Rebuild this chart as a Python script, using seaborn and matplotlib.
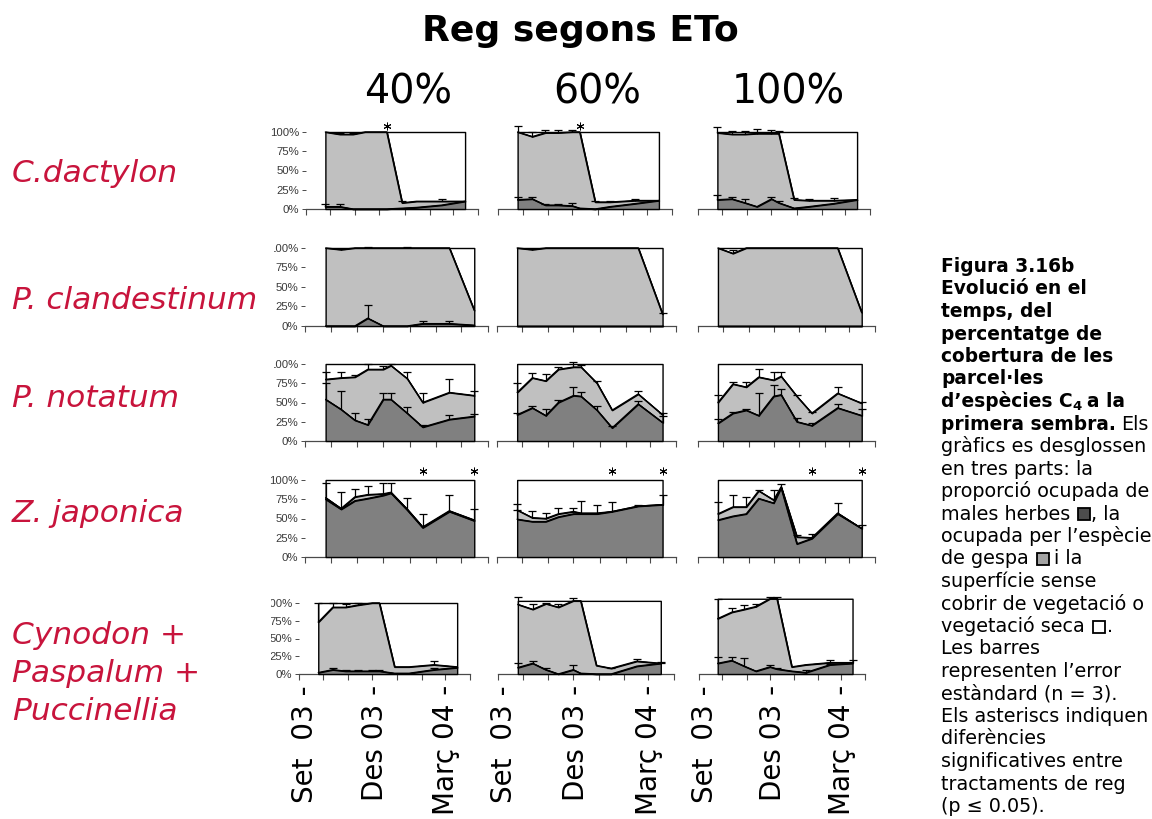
import numpy as np
import pandas as pd
import matplotlib
matplotlib.use("Agg")
import matplotlib.pyplot as plt
import matplotlib.dates as mdates
from matplotlib.patches import Rectangle
from matplotlib.transforms import Bbox
import seaborn as sns

# ---------------------------------------------------------------- data
dates = ["2003-09-25", "2003-10-13", "2003-10-29", "2003-11-13", "2003-12-01",
         "2003-12-10", "2003-12-29", "2004-01-16", "2004-02-16", "2004-03-16"]
treatments = ["40%", "60%", "100%"]
species = ["C.dactylon", "P. clandestinum", "P. notatum", "Z. japonica",
           "Cynodon +\nPaspalum +\nPuccinellia"]
date_ticks = ["2003-09-01", "2003-12-01", "2004-03-01"]
date_labels = ["Set  03 -", "Des 03 -", "Març 04 -"]

# weeds = cover of weeds (%), cover = weeds + turf species (%), *_se = standard error
dactylon_weeds = [[3, 3, 0, 0, 0, 0, 1, 2, 5, 10],
                  [12, 13, 5, 5, 4, 1, 0, 3, 7, 11],
                  [12, 13, 8, 3, 13, 8, 1, 3, 7, 12]]
dactylon_weeds_se = [[4, 4, 0, 0, 0, 0, 0, 0, 0, 0],
                     [3, 2, 2, 2, 4, 0, 0, 0, 0, 0],
                     [6, 3, 5, 0, 3, 3, 0, 0, 0, 0]]
dactylon_cover = [[100, 97, 97, 100, 100, 100, 8, 10, 10, 10],
                  [100, 94, 99, 99, 100, 100, 9, 9, 11, 11],
                  [99, 97, 97, 98, 98, 98, 12, 11, 11, 12]]
dactylon_cover_se = [[0, 2, 2, 0, 0, 0, 2, 0, 3, 0],
                     [8, 6, 3, 3, 2, 0, 2, 2, 2, 0],
                     [7, 4, 4, 6, 4, 3, 2, 2, 3, 0]]

clandestinum_weeds = [[0, 0, 0, 10, 0, 0, 0, 3, 3, 1],
                      [0, 0, 0, 0, 0, 0, 0, 0, 0, 0],
                      [0, 0, 0, 0, 0, 0, 0, 0, 0, 0]]
clandestinum_weeds_se = [[0, 0, 0, 17, 0, 0, 0, 4, 4, 0],
                         [0, 0, 0, 0, 0, 0, 0, 0, 0, 0],
                         [0, 0, 0, 0, 0, 0, 0, 0, 0, 0]]
clandestinum_cover = [[100, 98, 100, 100, 100, 100, 100, 100, 100, 20],
                      [100, 98, 100, 100, 100, 100, 100, 100, 100, 15],
                      [100, 93, 100, 100, 100, 100, 100, 100, 100, 17]]
clandestinum_cover_se = [[0, 1, 0, 1, 0, 0, 1, 0, 0, 0],
                         [0, 1, 0, 0, 0, 0, 0, 0, 0, 2],
                         [0, 4, 0, 0, 0, 0, 0, 0, 0, 0]]

notatum_weeds = [[54, 41, 27, 21, 54, 54, 36, 18, 28, 32],
                 [34, 43, 33, 50, 59, 58, 40, 17, 48, 24],
                 [23, 36, 40, 33, 58, 60, 25, 20, 43, 33]]
notatum_weeds_se = [[21, 24, 10, 7, 8, 8, 8, 3, 6, 3],
                    [3, 3, 8, 3, 11, 6, 6, 3, 4, 8],
                    [5, 2, 2, 29, 15, 7, 5, 3, 5, 8]]
notatum_cover = [[80, 82, 83, 93, 93, 98, 81, 50, 63, 59],
                 [63, 82, 78, 93, 96, 96, 75, 40, 61, 34],
                 [50, 74, 70, 83, 79, 84, 58, 36, 62, 49]]
notatum_cover_se = [[9, 7, 3, 7, 5, 2, 9, 12, 17, 6],
                    [12, 6, 9, 3, 7, 3, 3, 0, 4, 2],
                    [10, 2, 7, 11, 10, 6, 2, 2, 8, 2]]

japonica_weeds = [[75, 62, 73, 76, 80, 83, 61, 38, 59, 47],
                  [49, 46, 46, 52, 56, 56, 56, 59, 66, 68],
                  [48, 53, 56, 76, 70, 90, 17, 24, 56, 37]]
japonica_weeds_se = [[0, 0, 0, 0, 0, 0, 0, 0, 0, 0],
                     [12, 0, 0, 0, 0, 0, 0, 0, 0, 0],
                     [0, 0, 0, 0, 0, 0, 0, 0, 0, 0]]
japonica_cover = [[77, 63, 78, 81, 82, 84, 62, 39, 60, 48],
                  [61, 51, 50, 56, 59, 57, 57, 59, 66, 68],
                  [56, 65, 65, 86, 74, 91, 26, 25, 57, 37]]
japonica_cover_se = [[19, 22, 10, 11, 14, 12, 15, 17, 21, 14],
                     [8, 9, 7, 8, 5, 16, 11, 12, 2, 12],
                     [15, 15, 13, 1, 13, 4, 3, 5, 13, 4]]

mix_weeds = [[2, 6, 4, 4, 4, 4, 1, 1, 6, 9],
             [9, 15, 6, 0, 6, 1, 0, 0, 11, 15],
             [15, 19, 11, 4, 10, 7, 4, 2, 13, 15]]
mix_weeds_se = [[0, 2, 2, 2, 2, 2, 0, 0, 2, 0],
                [6, 4, 2, 0, 6, 0, 0, 0, 0, 2],
                [9, 5, 11, 0, 3, 1, 0, 4, 1, 0]]
mix_cover = [[73, 94, 94, 97, 100, 100, 10, 10, 13, 10],
             [98, 91, 99, 94, 103, 103, 12, 8, 18, 15],
             [78, 87, 91, 95, 106, 106, 10, 13, 16, 16]]
mix_cover_se = [[27, 6, 5, 3, 0, 0, 0, 0, 6, 0],
                [10, 8, 1, 5, 4, 0, 0, 1, 3, 1],
                [28, 6, 6, 3, 2, 2, 0, 0, 4, 4]]

# indices of sampling dates with significant differences between irrigation treatments
dactylon_stars = [[5], [5], []]
clandestinum_stars = [[], [], []]
notatum_stars = [[], [], []]
japonica_stars = [[7, 9], [7, 9], [7, 9]]
mix_stars = [[], [], []]

rows = [
    (dactylon_weeds, dactylon_weeds_se, dactylon_cover, dactylon_cover_se, dactylon_stars),
    (clandestinum_weeds, clandestinum_weeds_se, clandestinum_cover, clandestinum_cover_se, clandestinum_stars),
    (notatum_weeds, notatum_weeds_se, notatum_cover, notatum_cover_se, notatum_stars),
    (japonica_weeds, japonica_weeds_se, japonica_cover, japonica_cover_se, japonica_stars),
    (mix_weeds, mix_weeds_se, mix_cover, mix_cover_se, mix_stars),
]

# ---------------------------------------------------------------- layout (pixels)
W, H = 1152, 819
row_y = [(132, 209), (248, 326), (364, 441), (480, 557), (603, 674)]   # (100 %, 0 %)
col_x = [[(306, 478), (498, 672), (698, 870)],
         [(305, 488), (497, 676), (698, 875)],
         [(305, 488), (497, 676), (698, 875)],
         [(305, 488), (497, 676), (698, 875)],
         [(299, 470), (498, 674), (699, 865)]]
# left edge of each row's pasted chart (percent labels are cut there)
row_clip_left = [0, 274, 274, 0, 271]
date_label_dx = [6, 3, 1]          # horizontal nudges of the date labels, pixels
star_y = [108, 108, 108, 112, 108]
label_baselines = [[182], [309], [407], [522], [644, 682, 720]]

C_WEEDS = "#808080"
C_TURF = "#c0c0c0"
C_BARE = "#ffffff"
C_AXIS = "#4a4a4a"
C_NAME = "#c8143c"

sns.set_theme(style="white")
plt.rcParams["font.family"] = ["DejaVu Sans"]

fig = plt.figure(figsize=(W / 100, H / 100), dpi=100)
fig.patch.set_facecolor("white")

x = mdates.date2num(pd.to_datetime(dates))
x0 = mdates.date2num(pd.Timestamp("2003-09-01"))
x1 = mdates.date2num(pd.Timestamp("2004-04-01"))
xt = mdates.date2num(pd.to_datetime(date_ticks))


def add_px_axes(left, right, ytop, ybot):
    return fig.add_axes([left / W, 1 - ybot / H, (right - left) / W, (ybot - ytop) / H])


def plus_errorbars(ax, xs, ys, se):
    ys = np.asarray(ys, float)
    se = np.asarray(se, float)
    m = se > 0
    ax.vlines(xs[m], ys[m], ys[m] + se[m], color="black", lw=0.9, zorder=4, clip_on=False)
    ax.plot(xs[m], ys[m] + se[m], ls="none", marker="_", ms=6, mew=0.9,
            color="black", zorder=4, clip_on=False)


for r, (weeds_all, wse_all, cover_all, cse_all, stars_all) in enumerate(rows):
    ytop, ybot = row_y[r]
    for c in range(3):
        left, right = col_x[r][c]
        ax = add_px_axes(left, right, ytop, ybot)
        ax.set_facecolor("none")
        weeds = np.asarray(weeds_all[c], float)
        cover = np.asarray(cover_all[c], float)
        top = max(100.0, cover.max())

        # stacked areas: bare soil / dry (white), turf species (light), weeds (dark)
        ax.fill_between(x, cover, top, facecolor=C_BARE, edgecolor="black",
                        lw=1.0, zorder=1, clip_on=False)
        ax.fill_between(x, weeds, cover, facecolor=C_TURF, edgecolor="black",
                        lw=1.0, zorder=1.1, clip_on=False)
        ax.fill_between(x, 0, weeds, facecolor=C_WEEDS, edgecolor="black",
                        lw=1.0, zorder=1.2, clip_on=False)

        long = pd.DataFrame({
            "x": np.concatenate([x, x]),
            "level": np.concatenate([weeds, cover]),
            "layer": ["weeds"] * len(x) + ["cover"] * len(x),
        })
        sns.lineplot(data=long, x="x", y="level", units="layer", estimator=None,
                     color="black", lw=1.0, ax=ax, legend=False, zorder=3)
        for ln in ax.lines:
            ln.set_clip_on(False)

        plus_errorbars(ax, x, weeds, wse_all[c])
        plus_errorbars(ax, x, cover, cse_all[c])

        idx = stars_all[c]
        if idx:
            ax.plot(x[idx], [star_y[r]] * len(idx), ls="none", marker=(6, 2, 0),
                    ms=5.5, mew=0.7, color="black", clip_on=False, zorder=5)

        ax.set_xlim(x0, x1)
        ax.set_ylim(0, 100)
        ax.set_xlabel("")
        ax.set_ylabel("")
        for s in ("top", "right", "left"):
            ax.spines[s].set_visible(False)
        ax.spines["bottom"].set_color(C_AXIS)
        ax.spines["bottom"].set_linewidth(0.9)
        ax.spines["bottom"].set_zorder(0.5)
        ax.xaxis.set_major_locator(mdates.MonthLocator())
        ax.tick_params(axis="x", which="major", bottom=True, direction="out",
                       length=4, width=0.8, color=C_AXIS, labelbottom=False)
        if c == 0:
            ax.set_yticks([0, 25, 50, 75, 100])
            ax.set_yticklabels(["0%", "25%", "50%", "75%", "100%"],
                               family="Liberation Sans", fontsize=8.2, color="#3a3a3a")
            ax.tick_params(axis="y", left=True, direction="out", length=3,
                           width=0.7, color=C_AXIS, pad=2)
            if row_clip_left[r]:
                clip = Bbox.from_extents(row_clip_left[r], 0, W, H)
                for lab in ax.get_yticklabels():
                    lab.set_clip_box(clip)
                    lab.set_clip_on(True)
        else:
            ax.set_yticks([])
        ax.grid(False)

        if r == len(rows) - 1:
            for xv, lab, dx in zip(xt, date_labels, date_label_dx):
                ax.annotate(lab, xy=(xv, 0), xycoords=("data", "axes fraction"),
                            xytext=(dx, -11), textcoords="offset pixels",
                            rotation=90, ha="center", va="top", fontsize=20,
                            color="black", annotation_clip=False)

# ---------------------------------------------------------------- headings
fig.text(580 / W, 1 - 41 / H, "Reg segons ETo", ha="center", va="baseline",
         fontsize=26, fontweight="bold", color="black")
for cx, lab in zip([408, 597, 788], treatments):
    fig.text(cx / W, 1 - 103 / H, lab, ha="center", va="baseline", fontsize=28.5,
             color="black")

for name, bases in zip(species, label_baselines):
    for line, yb in zip(name.split("\n"), bases):
        fig.text(12 / W, 1 - yb / H, line, ha="left", va="baseline", fontsize=22.5,
                 style="italic", color=C_NAME)

# ---------------------------------------------------------------- caption
caption = [
    [("b", "Figura 3.16b")],
    [("b", "Evolució en el")],
    [("b", "temps, del")],
    [("b", "percentatge de")],
    [("b", "cobertura de les")],
    [("b", "parcel·les")],
    [("b", "d’espècies C"), ("sub", "4"), 5, ("b", "a la")],
    [("b", "primera sembra."), 5, ("n", "Els")],
    [("n", "gràfics es desglossen")],
    [("n", "en tres parts: la")],
    [("n", "proporció ocupada de")],
    [("n", "males herbes"), 8, ("sq", "#4d4d4d"), 1, ("n", ", la")],
    [("n", "ocupada per l’espècie")],
    [("n", "de gespa"), 8, ("sq", "#a3a3a3"), 5, ("n", "i la")],
    [("n", "superfície sense")],
    [("n", "cobrir de vegetació o")],
    [("n", "vegetació seca"), 8, ("sq", "#ffffff"), 2, ("n", ".")],
    [("n", "Les barres")],
    [("n", "representen l’error")],
    [("n", "estàndard (n = 3).")],
    [("n", "Els asteriscs indiquen")],
    [("n", "diferències")],
    [("n", "significatives entre")],
    [("n", "tractaments de reg")],
    [("n", "(p ≤ 0.05).")],
]

renderer = fig.canvas.get_renderer()
cap_x, cap_base, cap_step = 941, 272, 22.5
fs_normal, fs_bold = 13.8, 13.4
for i, runs in enumerate(caption):
    yb = cap_base + i * cap_step
    xc = cap_x
    for run in runs:
        if isinstance(run, (int, float)):
            xc += run
            continue
        kind, val = run
        if kind == "sq":
            s = 12
            fig.add_artist(Rectangle((xc / W, 1 - (yb + 0.5) / H), s / W, s / H,
                                     transform=fig.transFigure, facecolor=val,
                                     edgecolor="black", lw=1.3))
            xc += s
            continue
        if kind == "sub":
            t = fig.text(xc / W, 1 - (yb + 3) / H, val, ha="left", va="baseline",
                         fontsize=9.5, fontweight="bold", color="black")
        else:
            t = fig.text(xc / W, 1 - yb / H, val, ha="left", va="baseline",
                         fontsize=fs_bold if kind == "b" else fs_normal,
                         fontweight="bold" if kind == "b" else "normal",
                         color="black")
        xc = t.get_window_extent(renderer).x1

fig.savefig("out.png", dpi=100, facecolor="white")
